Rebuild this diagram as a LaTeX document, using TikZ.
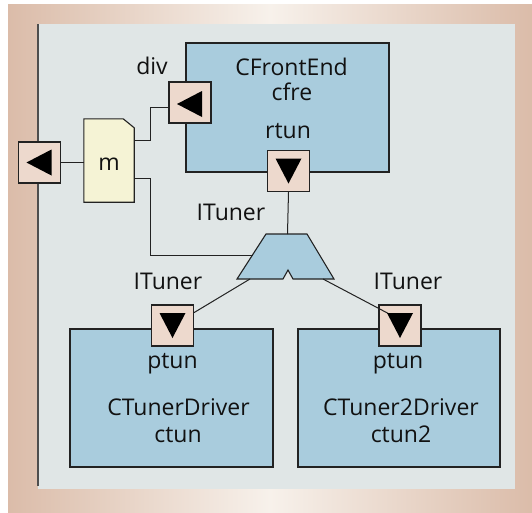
\documentclass[tikz,border=0pt]{standalone}
\usepackage{fontspec}
\setmainfont{Open Sans}
\definecolor{gradedge}{HTML}{DBBCA9}
\definecolor{gradmid}{HTML}{F7F1EB}
\definecolor{panelc}{HTML}{E0E6E6}
\definecolor{compc}{HTML}{A9CCDD}
\definecolor{portc}{HTML}{EDD9CD}
\definecolor{notec}{HTML}{F5F3D5}
\definecolor{linec}{HTML}{222222}
\definecolor{textc}{HTML}{111111}
\begin{document}
\begin{tikzpicture}[x=1pt,y=-1pt,
  comp/.style={draw=linec, line width=1.1pt, fill=compc, inner sep=0pt, rectangle},
  portbox/.style={draw=linec, line width=1.1pt, fill=portc, inner sep=0pt, minimum width=42pt, minimum height=41pt},
  notebox/.style={inner sep=0pt, minimum width=50pt, minimum height=83pt},
  wire/.style={draw=linec, line width=1pt},
  lbl/.style={anchor=base, inner sep=0pt, text=textc, font=\fontsize{23}{26}\selectfont}]
\useasboundingbox (0,0) rectangle (532,512);
\fill[white] (0,0) rectangle (532,512);
\shade[left color=gradedge, right color=gradedge, middle color=gradmid] (8,4) rectangle (532,512);
\fill[panelc] (38,24) rectangle (515,489);
\draw[line width=1.5pt, linec!80] (38,24) -- (38,486);
% components
\node[comp, minimum width=203pt, minimum height=129pt] (cfre) at (287.5,107.5) {};
\node[comp, minimum width=203pt, minimum height=138pt] (ctun) at (171.5,398) {};
\node[comp, minimum width=202pt, minimum height=138pt] (ctun2) at (399,398) {};
% note
\node[notebox] (m) at (109,160.5) {};
\filldraw[fill=notec, draw=linec, line width=1.1pt] (m.south west) -- (m.north west) -- ([xshift=-11pt]m.north east) -- ([yshift=-9pt]m.north east) -- (m.south east) -- cycle;
% trapezoid
\filldraw[fill=compc, draw=linec, line width=1.1pt] (266,234) -- (307,234) -- (334,279) -- (293,279) -- (288,270) -- (283,279) -- (237,279) -- cycle;
\coordinate (tzT) at (287.5,234);
\coordinate (tzL) at (252.5,255);
\coordinate (tzBL) at (250,279);
\coordinate (tzBR) at (323,279);
% ports
\node[portbox] (lp) at (39.5,162.5) {};
\node[portbox] (div) at (190,102.5) {};
\node[portbox] (rtun) at (288.5,171) {};
\node[portbox] (pt1) at (172.5,325.5) {};
\node[portbox] (pt2) at (400,325.5) {};
% wires
\draw[wire] (lp.east) -- (lp.east -| m.west);
\draw[wire] ([yshift=20.5pt]m.east) -- ++(16,0) |- ([yshift=-4.5pt]div.west);
\draw[wire] ([yshift=-17.5pt]m.east) -- ++(16,0) |- (tzL);
\draw[wire] (rtun.south) -- (tzT);
\draw[wire] (tzBL) -- (pt1);
\draw[wire] (tzBR) -- ([shift={(-6,-9)}]pt2.center);
% triangles
\fill[black] ([shift={(-13,0)}]lp.center) -- ([shift={(12,-13)}]lp.center) -- ([shift={(12,13)}]lp.center) -- cycle;
\fill[black] ([shift={(-13,1.5)}]div.center) -- ([shift={(12,-11.5)}]div.center) -- ([shift={(12,14.5)}]div.center) -- cycle;
\fill[black] ([shift={(0,12.5)}]rtun.center) -- ([shift={(-13,-12.5)}]rtun.center) -- ([shift={(13,-12.5)}]rtun.center) -- cycle;
\fill[black] ([shift={(0,12.5)}]pt1.center) -- ([shift={(-13,-12.5)}]pt1.center) -- ([shift={(13,-12.5)}]pt1.center) -- cycle;
\fill[black] ([shift={(0,12.5)}]pt2.center) -- ([shift={(-13,-12.5)}]pt2.center) -- ([shift={(13,-12.5)}]pt2.center) -- cycle;
% labels
\node[lbl] (tcfre1) at (291.5,75) {CFrontEnd};
\node[lbl] (tcfre2) at (292,100) {cfre};
\node[lbl] (trtun) at (288,138) {rtun};
\node[lbl] (tdiv) at (152,74) {div};
\node[lbl] (tm) at (109,170) {m};
\node[lbl] (tit0) at (231,220) {ITuner};
\node[lbl] (tit1) at (168,289) {ITuner};
\node[lbl] (tit2) at (408,289) {ITuner};
\node[lbl] (tpt1) at (172.5,368) {ptun};
\node[lbl] (tpt2) at (398,368) {ptun};
\node[lbl] (tct1) at (178.5,415) {CTunerDriver};
\node[lbl] (tct1b) at (178,442) {ctun};
\node[lbl] (tct2) at (401,415) {CTuner2Driver};
\node[lbl] (tct2b) at (401,442) {ctun2};
\end{tikzpicture}
\end{document}
